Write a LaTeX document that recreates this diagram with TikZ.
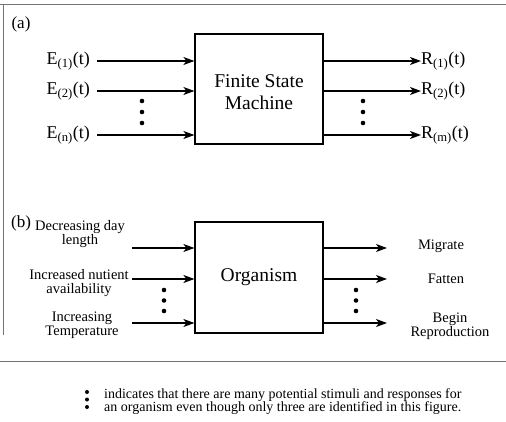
\documentclass[tikz,border=0pt]{standalone}
\usepackage{fontspec}
\setmainfont{Liberation Serif}
\usetikzlibrary{arrows.meta}
\usetikzlibrary{positioning}

\begin{document}
\begin{tikzpicture}[x=1pt,y=-1pt,
     sig/.style={-{Stealth[length=11pt,width=8pt,inset=3pt]},line width=1.1pt},
     machine/.style={draw,line width=1.2pt,minimum width=128pt,minimum height=110pt,inner sep=0pt},
     frame/.style={black!55,line width=0.6pt},
     lbl/.style={inner sep=0pt,font=\fontsize{18}{20}\selectfont},
     stim/.style={inner sep=0pt,font=\fontsize{14.5}{14}\selectfont},
     dot/.style={fill=black},
   every node/.append style={align=center}]
   \useasboundingbox (0,0) rectangle (506,422);
   %
   % frame round the two panels
   \draw[frame] (0,4) -- (506,4);
   \draw[frame] (3,4) -- (3,335);
   \draw[frame] (0,361) -- (506,361);
   %
   % (a) finite state machine
   \node (taga) at (21,24) {\fontsize{17}{18}\selectfont (a)};
   \node (fsm) at (259,89) [machine] {};
   \node (fsmtext) at ([yshift=-3pt]fsm.center) [font=\fontsize{19.5}{22}\selectfont] {Finite State\\Machine};
   \node (e1) at (90,61) [lbl,anchor=east] {E\textsubscript{(1)}(t)};
   \node (e2) at (90,91) [lbl,anchor=east] {E\textsubscript{(2)}(t)};
   \node (e3) at (90,135) [lbl,anchor=east] {E\textsubscript{(n)}(t)};
   \draw[sig] ([xshift=7pt]e1.east) -- (e1 -| fsm.west);
   \draw[sig] ([xshift=7pt]e2.east) -- (e2 -| fsm.west);
   \draw[sig] ([xshift=7pt]e3.east) -- (e3 -| fsm.west);
   \node (r1) at (421,61) [lbl,anchor=west] {R\textsubscript{(1)}(t)};
   \node (r2) at (421,91) [lbl,anchor=west] {R\textsubscript{(2)}(t)};
   \node (r3) at (421,135) [lbl,anchor=west] {R\textsubscript{(m)}(t)};
   \draw[sig] (r1 -| fsm.east) -- (r1.west);
   \draw[sig] (r2 -| fsm.east) -- (r2.west);
   \draw[sig] (r3 -| fsm.east) -- (r3.west);
   \foreach \y in {101,112,123} {
     \fill[dot] (142,\y) circle (2.3pt);
     \fill[dot] (363,\y) circle (2.3pt);
   }
   %
   % (b) organism
   \node (tagb) at (21,223) {\fontsize{17}{18}\selectfont (b)};
   \node (org) at (259,277.5) [machine,minimum height=111pt,font=\fontsize{19.5}{22}\selectfont] {Organism};
   \node (s1) at (80,234) [stim] {Decreasing day\\length};
   \node (s2) at (79,283) [stim] {Increased nutient\\availability};
   \node (s3) at (82,325) [stim] {Increasing\\Temperature};
   \coordinate (in1) at (132,248);
   \coordinate (in2) at (132,279);
   \coordinate (in3) at (132,323);
   \draw[sig] (in1) -- (in1 -| org.west);
   \draw[sig] (in2) -- (in2 -| org.west);
   \draw[sig] (in3) -- (in3 -| org.west);
   \coordinate (out1) at (387,248);
   \coordinate (out2) at (387,279);
   \coordinate (out3) at (387,323);
   \draw[sig] (out1 -| org.east) -- (out1);
   \draw[sig] (out2 -| org.east) -- (out2);
   \draw[sig] (out3 -| org.east) -- (out3);
   \node (m1) at (441,246) [stim] {Migrate};
   \node (m2) at (446,279) [stim] {Fatten};
   \node (m3) at (450,326) [stim] {Begin\\Reproduction};
   \foreach \y in {290,300.5,311} {
     \fill[dot] (164,\y) circle (2.3pt);
     \fill[dot] (356,\y) circle (2.3pt);
   }
   %
   % key to the dots
   \foreach \y in {392,399.5,407}
     \fill[dot] (87,\y) circle (2pt);
   \node (note) at (104,401.5) [anchor=west,align=left,inner sep=0pt,font=\fontsize{14}{13.5}\selectfont]
     {indicates that there are many potential stimuli and responses for\\an organism even though only three are identified in this figure.};
\end{tikzpicture}
\end{document}
